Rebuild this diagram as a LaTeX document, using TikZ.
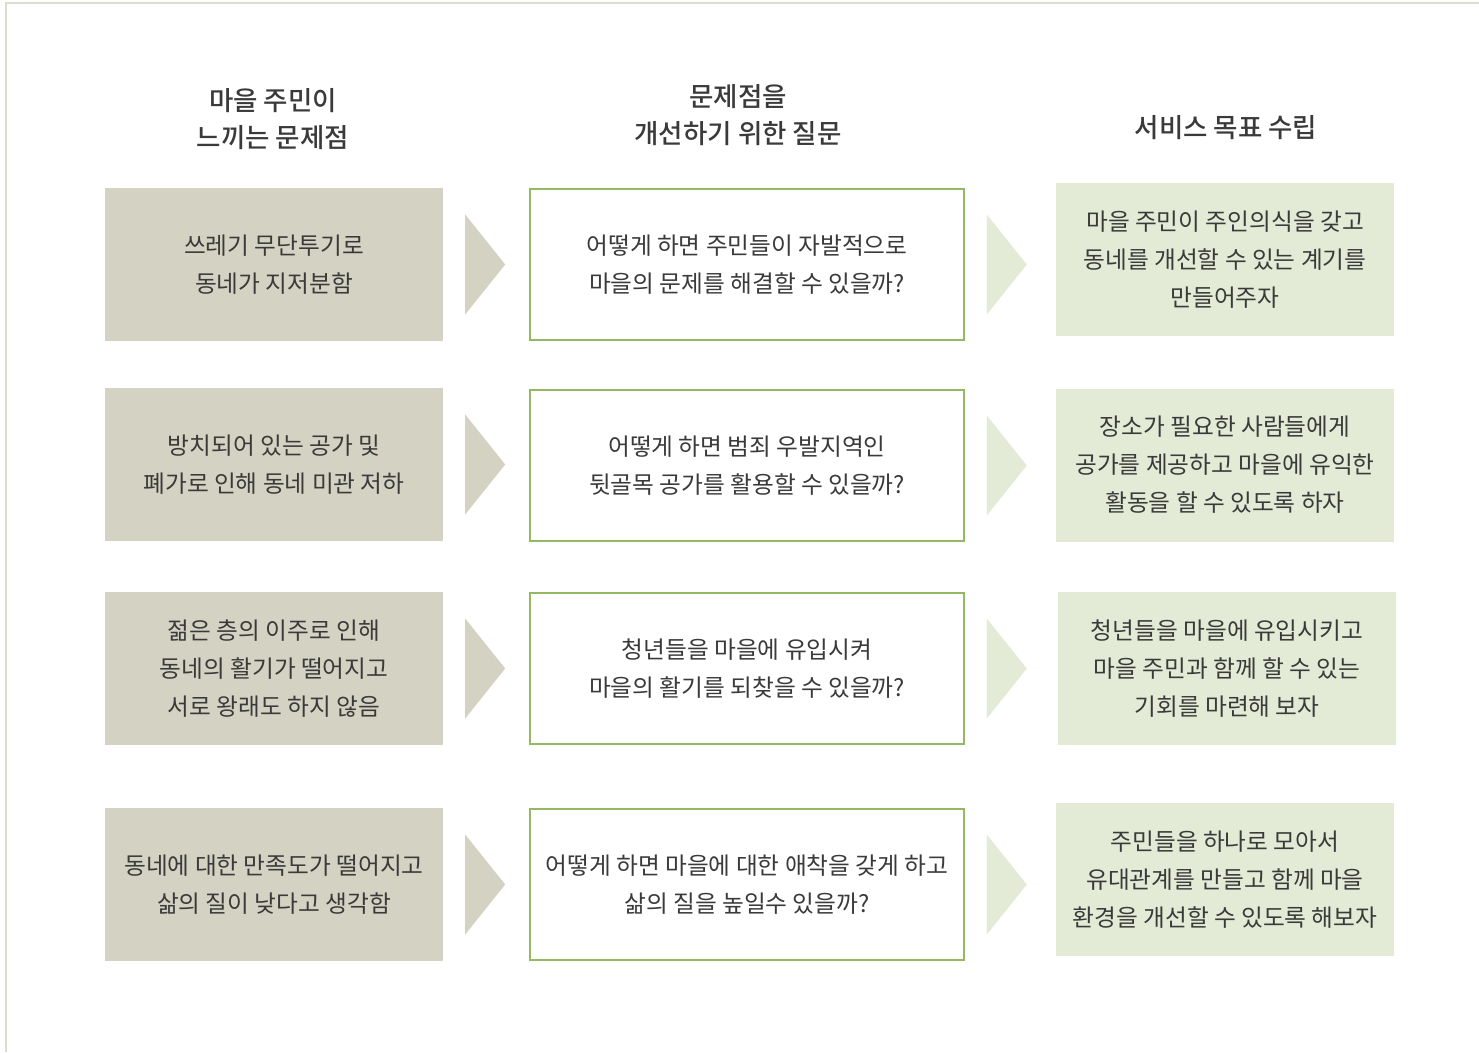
\documentclass[tikz,border=0pt]{standalone}
\usepackage{fontspec}
\setmainfont{Noto Sans CJK KR}
\newfontfamily\headfont{Noto Sans CJK KR Medium}
\usepackage{xcolor}
\usepackage{tikz}
\usetikzlibrary{calc}

\definecolor{probfill}{HTML}{D4D2C2}
\definecolor{goalfill}{HTML}{E3EBD6}
\definecolor{askline}{HTML}{93BA63}
\definecolor{textgray}{HTML}{3A3A3A}
\definecolor{framegray}{HTML}{DCDCD0}

% chevron from one box towards the next
\newcommand{\chevron}[3]{%
  \fill[#3] ($(#1.east)+(22,-50)$) -- ($(#1.east)+(62,0)$) -- ($(#1.east)+(22,50)$) -- cycle;}

\begin{document}
\begin{tikzpicture}[x=1pt, y=-1pt,
  head/.style={
    align=center, inner sep=0pt, text=textgray,
    font=\fontsize{26.5}{37}\selectfont\headfont
  },
  probbox/.style={
    rectangle, fill=probfill, inner sep=0pt,
    minimum width=338pt, minimum height=153pt,
    align=center, text=textgray, font=\fontsize{23.7}{38}\selectfont
  },
  askbox/.style={
    rectangle, draw=askline, line width=1.6pt, fill=white, inner sep=0pt,
    minimum width=434pt, minimum height=151pt,
    align=center, text=textgray, font=\fontsize{23.7}{38}\selectfont
  },
  goalbox/.style={
    rectangle, fill=goalfill, inner sep=0pt,
    minimum width=338pt, minimum height=153pt,
    align=center, text=textgray, font=\fontsize{23.7}{38}\selectfont
  }
]
\useasboundingbox (0,0) rectangle (1479,1052);

% ---- Frame ----
\draw[framegray, line width=2pt] (1479,3) -- (6,3) -- (6,1052);

% ---- Headers ----
\node[head] (h1) at (273,119.5) {마을 주민이\\느끼는 문제점};
\node[head] (h2) at (738,115)   {문제점을\\개선하기 위한 질문};
\node[head] (h3) at (1226,128)  {서비스 목표 수립};

% ---- Problems ----
\node[probbox] (p1) at (274,264.5) {쓰레기 무단투기로\\동네가 지저분함};
\node[probbox] (p2) at (274,464.5) {방치되어 있는 공가 및\\폐가로 인해 동네 미관 저하};
\node[probbox] (p3) at (274,668.5) {젊은 층의 이주로 인해\\동네의 활기가 떨어지고\\서로 왕래도 하지 않음};
\node[probbox] (p4) at (274,884.5) {동네에 대한 만족도가 떨어지고\\삶의 질이 낮다고 생각함};

% ---- Questions ----
\node[askbox] (q1) at (747,264.5) {어떻게 하면 주민들이 자발적으로\\마을의 문제를 해결할 수 있을까?};
\node[askbox] (q2) at (747,465.5) {어떻게 하면 범죄 우발지역인\\뒷골목 공가를 활용할 수 있을까?};
\node[askbox] (q3) at (747,668.5) {청년들을 마을에 유입시켜\\마을의 활기를 되찾을 수 있을까?};
\node[askbox] (q4) at (747,884.5) {어떻게 하면 마을에 대한 애착을 갖게 하고\\삶의 질을 높일수 있을까?};

% ---- Goals ----
\node[goalbox] (s1) at (1225,259.5) {마을 주민이 주인의식을 갖고\\동네를 개선할 수 있는 계기를\\만들어주자};
\node[goalbox] (s2) at (1225,465)   {장소가 필요한 사람들에게\\공가를 제공하고 마을에 유익한\\활동을 할 수 있도록 하자};
\node[goalbox] (s3) at (1227,668.5) {청년들을 마을에 유입시키고\\마을 주민과 함께 할 수 있는\\기회를 마련해 보자};
\node[goalbox] (s4) at (1225,879.5) {주민들을 하나로 모아서\\유대관계를 만들고 함께 마을\\환경을 개선할 수 있도록 해보자};

% ---- Arrows ----
\foreach \r in {1,...,4}{
  \chevron{p\r}{q\r}{probfill}
  \chevron{q\r}{s\r}{goalfill}
}

\end{tikzpicture}
\end{document}
